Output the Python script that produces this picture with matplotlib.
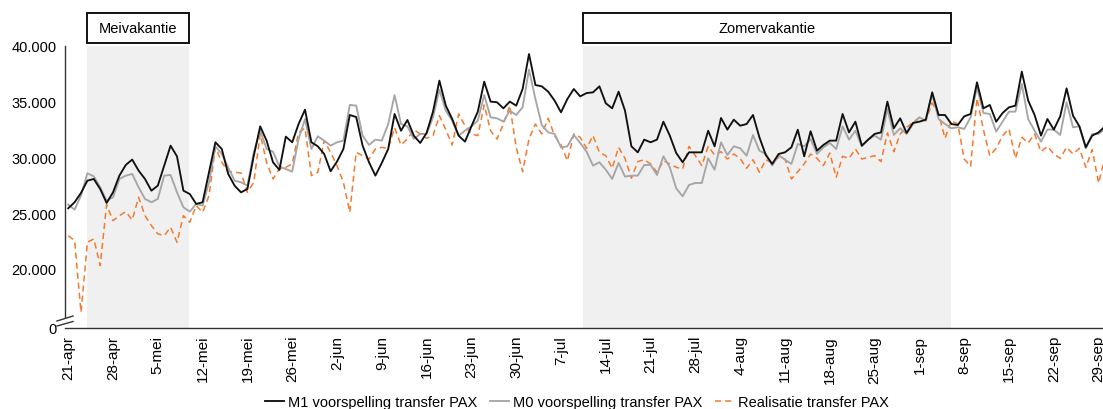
import numpy as np
import matplotlib
matplotlib.use("Agg")
import matplotlib.pyplot as plt
from matplotlib.lines import Line2D
from matplotlib.patches import Rectangle
from matplotlib.ticker import FixedLocator, FixedFormatter

plt.rcParams['font.family'] = ['Liberation Sans', 'DejaVu Sans']

# ---- data (daily, starting 21-apr) ----
m1 = [25440, 25980, 26820, 27920, 28070, 27170, 25920, 26870, 28370, 29330,
      29810, 28820, 28070, 27020, 27470, 29270, 31060, 30100, 27020, 26720,
      25830, 25980, 28670, 31360, 30760, 28520, 27470, 26870, 27170, 30160,
      32790, 31510, 29570, 28880, 31870, 31360, 33000, 34290, 31360, 31000,
      30310, 28760, 29630, 30760, 33810, 33630, 31060, 29570, 28370, 29510,
      30760, 33900, 32400, 33360, 31960, 31300, 32200, 34110, 36890, 34650,
      33450, 31960, 31420, 32790, 34110, 36800, 35010, 34950, 34410, 35010,
      34650, 36140, 39280, 36500, 36380, 35900, 35100, 34050, 35250, 36140,
      35480, 35780, 35840, 36380, 34860, 34410, 35900, 34200, 31000, 30460,
      31600, 31360, 31600, 33210, 31960, 30400, 29570, 30460, 30460, 30460,
      32400, 31000, 33540, 32500, 33390, 32850, 33000, 33810, 31810, 30220,
      29420, 30310, 30460, 30910, 32490, 30100, 32350, 30610, 31120, 31510,
      31510, 33900, 32250, 33210, 31060, 31600, 32110, 32250, 35010, 32620,
      33510, 32200, 33100, 33210, 33390, 35840, 33810, 33810, 33000, 32910,
      33690, 33900, 36740, 34410, 34710, 33210, 33990, 34500, 34650, 37700,
      35100, 33810, 31960, 33450, 32500, 33690, 36200, 33750, 32790, 30910,
      31960, 32250, 32790]

m0 = [25770, 25320, 26580, 28580, 28310, 27320, 26130, 26430, 28070, 28370,
      28520, 27320, 26280, 25980, 26280, 28370, 28430, 26870, 25530, 25140,
      25830, 25680, 27770, 31000, 30310, 29120, 27920, 27770, 27470, 30460,
      32400, 30760, 30520, 29200, 28970, 28730, 31660, 33450, 30760, 31900,
      31510, 31060, 31360, 31510, 34710, 34650, 31960, 31120, 31600, 31510,
      33000, 35600, 33000, 32790, 31660, 32110, 32110, 33600, 36080, 34200,
      33300, 31960, 32400, 32790, 33300, 35600, 33600, 33510, 33210, 34200,
      33810, 34500, 37880, 35250, 32910, 32250, 32110, 30910, 31000, 32020,
      31300, 30520, 29270, 29570, 28900, 28070, 29510, 28280, 28370, 28370,
      29330, 29330, 28430, 30100, 29120, 27230, 26510, 27530, 27710, 27710,
      29920, 28900, 31360, 30220, 31000, 30820, 30160, 32020, 30610, 30310,
      29270, 30220, 29800, 29420, 31210, 31000, 31660, 30310, 30910, 31300,
      30760, 32790, 31600, 32400, 31000, 31600, 31960, 31600, 34350, 32020,
      32620, 32110, 33000, 33600, 33300, 35690, 33450, 33000, 32620, 32710,
      32560, 33600, 36290, 33990, 33900, 32320, 33210, 34110, 34110, 36590,
      33450, 32400, 31420, 32500, 32500, 32020, 34950, 32710, 32790, 30820,
      32110, 32110, 32560]

realisatie = [22990, 22540, 16110, 22390, 22690, 20300, 25770, 24330, 24780, 25140,
              24390, 26430, 24780, 23890, 23140, 22990, 23740, 22390, 24780, 24180,
              25680, 25080, 26570, 30910, 29570, 28730, 28670, 28610, 26870, 27770,
              32110, 29570, 28070, 28970, 29120, 29420, 32250, 32620, 28370, 28670,
              31510, 30460, 29270, 27770, 25080, 30460, 30160, 29860, 30760, 30910,
              30820, 32660, 31120, 31660, 32500, 32110, 31720, 31960, 33750, 32500,
              31120, 33900, 32850, 32110, 31960, 34710, 32400, 31660, 33000, 34650,
              30910, 28730, 31660, 33000, 32110, 33510, 31960, 31120, 29710, 32110,
              31810, 30820, 31960, 30460, 30160, 29030, 30910, 29920, 28130, 29630,
              29800, 29420, 28670, 29710, 29420, 29120, 28970, 31000, 30160, 29270,
              31000, 30220, 30520, 29860, 30310, 29900, 29030, 29800, 28670, 29800,
              29500, 30010, 29860, 28070, 28730, 29420, 30310, 29920, 29270, 30400,
              28220, 30100, 29920, 30760, 29860, 30010, 30160, 29630, 32200, 30520,
              32110, 32700, 33150, 33600, 33300, 34890, 33900, 31720, 33300, 33000,
              29860, 29200, 35310, 32500, 30160, 30820, 31960, 32560, 29920, 31810,
              31300, 32110, 30520, 31000, 30310, 29920, 30910, 30310, 30820, 29120,
              30700, 27710, 30010]

tick_labels = ['21-apr', '28-apr', '5-mei', '12-mei', '19-mei', '26-mei', '2-jun',
               '9-jun', '16-jun', '23-jun', '30-jun', '7-jul', '14-jul', '21-jul',
               '28-jul', '4-aug', '11-aug', '18-aug', '25-aug', '1-sep', '8-sep',
               '15-sep', '22-sep', '29-sep']

vakanties = ['Meivakantie', 'Zomervakantie']
vakantie_start = [3.0, 80.5]   # day index
vakantie_end = [18.9, 138.0]

series_names = ['M1 voorspelling transfer PAX', 'M0 voorspelling transfer PAX',
                'Realisatie transfer PAX']

y_tick_values = [20000, 25000, 30000, 35000, 40000]
y_bottom = 14700   # shown as "0" (broken axis)

# ---- figure ----
W, H = 1103, 410
fig = plt.figure(figsize=(W / 100, H / 100), dpi=100)
ax_left = 65 / W
ax_bottom = 1 - 329 / H
ax_top = 1 - 47 / H
ax_width = (163 * 6.40) / W
ax = fig.add_axes([ax_left, ax_bottom, ax_width, ax_top - ax_bottom])

x = np.arange(len(m1))
fs = 10.5

for s, e in zip(vakantie_start, vakantie_end):
    ax.axvspan(s, e, color='#F0F0F0', zorder=0, lw=0)

ax.plot(x, m1, color='#111111', lw=1.35, zorder=4)
ax.plot(x, m0, color='#A6A6A6', lw=1.35, zorder=3)
ax.plot(x, realisatie, color='#F47A2E', lw=1.1, ls=(0, (4.0, 2.6)), zorder=2)

ax.set_xlim(-0.5, 162.5)
ax.set_ylim(y_bottom, 40000)

ax.xaxis.set_major_locator(FixedLocator(np.arange(0, len(tick_labels) * 7, 7)))
ax.xaxis.set_major_formatter(FixedFormatter(tick_labels))
ax.tick_params(axis='x', length=0, pad=5, labelsize=11, labelrotation=90)

yt = [y_bottom] + y_tick_values
ytl = ['0'] + [f"{v:,.0f}".replace(',', '.') for v in y_tick_values]
ax.yaxis.set_major_locator(FixedLocator(yt))
ax.yaxis.set_major_formatter(FixedFormatter(ytl))
ax.tick_params(axis='y', length=0, pad=6, labelsize=fs)

for sp in ['top', 'right']:
    ax.spines[sp].set_visible(False)
ax.spines['bottom'].set_color('#333333')
ax.spines['bottom'].set_linewidth(1.0)
ax.spines['left'].set_color('#333333')
ax.spines['left'].set_linewidth(1.0)
ax.spines['left'].set_bounds(15690, 40000)

# axis break marks
for y0, y1 in [(322, 317), (327, 322.5)]:
    fig.add_artist(Line2D([57 / W, 73 / W], [1 - y0 / H, 1 - y1 / H],
                          transform=fig.transFigure, color='#333333', lw=1.0))

# holiday label boxes above the plot
trans = matplotlib.transforms.blended_transform_factory(ax.transData, ax.transAxes)
axh = 282.0
b0 = 1 + (47 - 44) / axh
b1 = 1 + (47 - 14) / axh
for name, s, e in zip(vakanties, vakantie_start, vakantie_end):
    r = Rectangle((s, b0), e - s, b1 - b0, transform=trans, fill=False,
                  edgecolor='#111111', lw=1.4, clip_on=False)
    ax.add_patch(r)
    ax.text((s + e) / 2, (b0 + b1) / 2, name, transform=trans, ha='center',
            va='center', fontsize=fs, clip_on=False)

handles = [Line2D([], [], color='#111111', lw=1.35),
           Line2D([], [], color='#A6A6A6', lw=1.35),
           Line2D([], [], color='#F47A2E', lw=1.1, ls=(0, (4.0, 2.6)))]
fig.legend(handles, series_names, loc='center', ncol=3, frameon=False,
           bbox_to_anchor=(577 / W, 1 - 403 / H), fontsize=fs,
           handlelength=1.3, handletextpad=0.25, columnspacing=0.9,
           borderaxespad=0, borderpad=0)

fig.savefig('out.png', dpi=100)
